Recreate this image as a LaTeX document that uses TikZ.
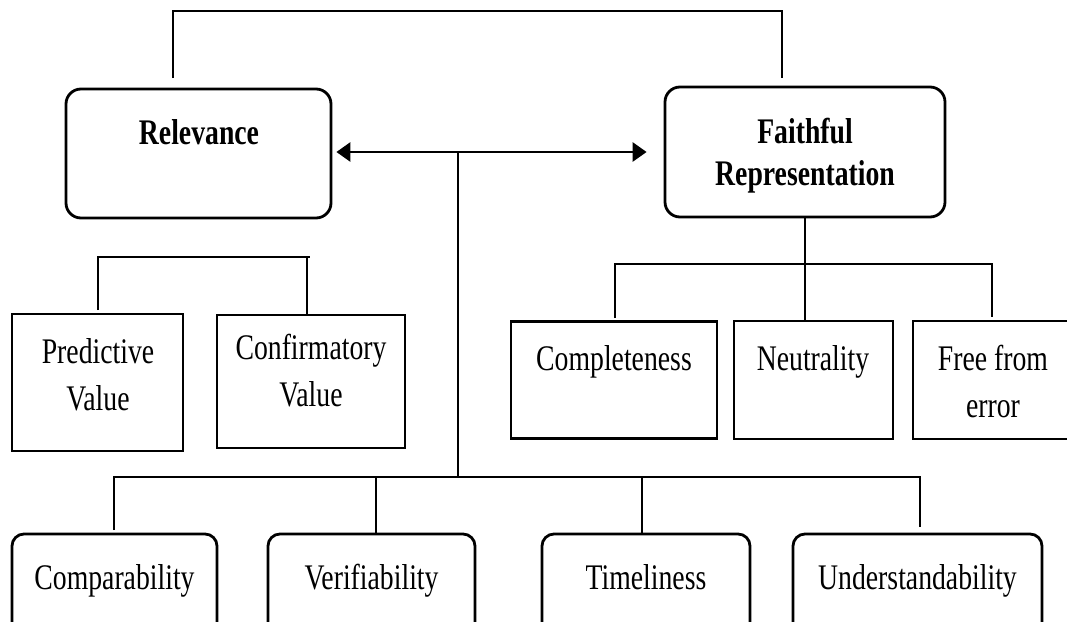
\documentclass[tikz,border=0pt]{standalone}
\usepackage{fontspec}
\setmainfont{Liberation Serif}[FakeStretch=0.77]
\usetikzlibrary{arrows.meta}
\tikzset{
  rbox/.style={draw, line width=2.8pt, rounded corners=15pt, inner sep=0pt},
  sbox/.style={draw, line width=2.8pt, inner sep=0pt},
  conn/.style={line width=2.8pt},
  arr/.style={line width=2.8pt, {Triangle[length=14pt,width=19pt]}-{Triangle[length=14pt,width=19pt]}},
  txt/.style={inner sep=0pt, font=\fontsize{36}{47}\selectfont, align=center},
  btxt/.style={inner sep=0pt, font=\fontsize{36}{42}\selectfont\bfseries, align=center}
}
\begin{document}
\begin{tikzpicture}[x=1pt,y=-1pt]
\useasboundingbox (0,0) rectangle (1067,621);
\clip (0,0) rectangle (1067,621);
% top level boxes
\node[rbox, minimum width=265pt, minimum height=129pt] (rel) at (198.5,153.5) {};
\node[rbox, minimum width=280pt, minimum height=130pt] (fr) at (805,152) {};
\node[btxt, anchor=base] (relt) at (199,144) {Relevance};
\node[btxt, anchor=north] (frt) at (805,118) {Faithful\\Representation};
% sub boxes of relevance
\node[sbox, minimum width=171pt, minimum height=137pt] (pv) at (97.5,382.5) {};
\node[sbox, minimum width=188pt, minimum height=133pt] (cv) at (311,381.5) {};
\node[txt, anchor=north] (pvt) at (98,338.5) {Predictive\\Value};
\node[txt, anchor=north] (cvt) at (311,334) {Confirmatory\\Value};
% sub boxes of faithful representation
\node[sbox, minimum width=206pt, minimum height=117pt] (co) at (614,380) {};
\node[sbox, minimum width=159pt, minimum height=118pt] (ne) at (813.5,380) {};
\node[sbox, minimum width=160pt, minimum height=118pt] (ff) at (993,380) {};
\node[txt, anchor=base] (cot) at (614,370) {Completeness};
\node[txt, anchor=base] (net) at (813,370) {Neutrality};
\node[txt, anchor=north] (fft) at (993,345) {Free from\\error};
% bottom boxes
\node[rbox, rounded corners=12pt, minimum width=205pt, minimum height=120pt] (cmp) at (114.5,594) {};
\node[rbox, rounded corners=12pt, minimum width=207pt, minimum height=120pt] (ver) at (371.5,594) {};
\node[rbox, rounded corners=12pt, minimum width=208pt, minimum height=120pt] (tim) at (646,594) {};
\node[rbox, rounded corners=12pt, minimum width=249pt, minimum height=120pt] (und) at (917.5,594) {};
\node[txt, anchor=base] (cmpt) at (114.5,589) {Comparability};
\node[txt, anchor=base] (vert) at (371.5,589) {Verifiability};
\node[txt, anchor=base] (timt) at (646,589) {Timeliness};
\node[txt, anchor=base] (undt) at (917.5,589) {Understandability};
% coordinates
\coordinate (tl) at (173,78);
\coordinate (tr) at (782,78);
\coordinate (mid) at (458,152);
\coordinate (bh) at (458,477);
% top bracket
\draw[conn] (tl) |- (782,11) -- (tr);
% double arrow
\draw[arr] ([xshift=4pt]rel.east |- mid) -- ([xshift=-17pt]fr.west |- mid);
\draw[conn] (mid) -- (bh);
% relevance bracket
\draw[conn] (98,310) |- (310,257);
\draw[conn] (307,257) -- (cv.north -| 307,0);
% faithful bracket
\draw[conn] (fr.south) -- (ne.north -| fr.south);
\draw[conn] (615,318) |- (992,264) -- (992,317);
% bottom bracket
\draw[conn] (114,530) |- (920,477) -- (920,527);
\draw[conn] (376,477) -- (ver.north -| 376,0);
\draw[conn] (642,477) -- (tim.north -| 642,0);
\end{tikzpicture}
\end{document}
